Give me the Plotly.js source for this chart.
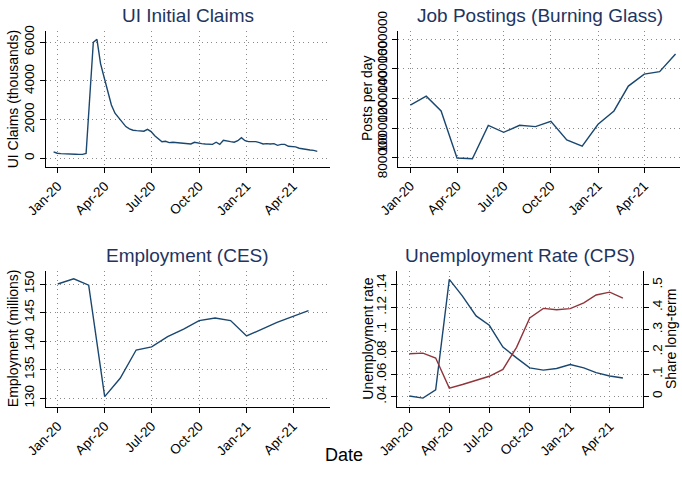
<!DOCTYPE html>
<html>
<head>
<meta charset="utf-8">
<script src="https://cdn.plot.ly/plotly-3.0.1.min.js"></script>
<style>html,body{margin:0;padding:0;background:#fff;}#chart{width:682px;height:490px;}</style>
</head>
<body>
<div id="chart"></div>
<script>
// ---------------- DATA ----------------
// Weekly UI initial claims (thousands)
const claimDates = [
 "2019-12-24","2019-12-31","2020-01-07","2020-01-14","2020-01-21","2020-01-28","2020-02-04","2020-02-11",
 "2020-02-18","2020-02-25","2020-03-03","2020-03-10","2020-03-17","2020-03-24","2020-03-31","2020-04-07",
 "2020-04-14","2020-04-21","2020-04-28","2020-05-05","2020-05-12","2020-05-19","2020-05-26","2020-06-02",
 "2020-06-09","2020-06-16","2020-06-23","2020-06-30","2020-07-07","2020-07-14","2020-07-21","2020-07-28",
 "2020-08-04","2020-08-11","2020-08-18","2020-08-25","2020-09-01","2020-09-08","2020-09-15","2020-09-22",
 "2020-09-29","2020-10-06","2020-10-13","2020-10-20","2020-10-27","2020-11-03","2020-11-10","2020-11-17",
 "2020-11-24","2020-12-01","2020-12-08","2020-12-15","2020-12-22","2020-12-29","2021-01-05","2021-01-12",
 "2021-01-19","2021-01-26","2021-02-02","2021-02-09","2021-02-16","2021-02-23","2021-03-02","2021-03-09",
 "2021-03-16","2021-03-23","2021-03-30","2021-04-06","2021-04-13","2021-04-20","2021-04-27","2021-05-04",
 "2021-05-11","2021-05-18"];
const claims = [
 330,260,240,225,225,210,210,205,205,250,2900,6000,6150,4900,4180,3450,
 2760,2330,2100,1850,1640,1520,1450,1430,1415,1400,1500,1380,1170,1030,860,880,
 810,830,810,790,780,740,740,830,780,760,740,740,720,830,720,930,
 910,860,830,910,1070,910,860,860,860,810,740,760,740,760,670,720,
 720,620,590,590,520,480,450,430,410,360];

// Monthly job postings (posts per day), Jan-20 .. Jun-21
const postDates = ["2020-01-01","2020-02-01","2020-03-01","2020-04-01","2020-05-01","2020-06-01",
 "2020-07-01","2020-08-01","2020-09-01","2020-10-01","2020-11-01","2020-12-01",
 "2021-01-01","2021-02-01","2021-03-01","2021-04-01","2021-05-01","2021-06-01"];
const postings = [1155000,1216000,1116000,798000,793000,1019000,972000,1019000,1010000,1046000,
 920000,879000,1026000,1116000,1284000,1365000,1381000,1501000];

// Monthly series Jan-20 .. May-21
const monthDates = ["2020-01-01","2020-02-01","2020-03-01","2020-04-01","2020-05-01","2020-06-01",
 "2020-07-01","2020-08-01","2020-09-01","2020-10-01","2020-11-01","2020-12-01",
 "2021-01-01","2021-02-01","2021-03-01","2021-04-01","2021-05-01"];
const employment = [150.0,150.9,149.8,130.3,133.5,138.45,139.0,140.8,142.1,143.6,144.05,143.6,
 140.9,142.1,143.3,144.35,145.35];
const unempRate = [0.0403,0.0384,0.0458,0.1450,0.1300,0.1122,0.1038,0.0843,0.0745,0.0655,0.0635,0.0650,
 0.0685,0.0656,0.0613,0.0582,0.0564];
const shareLT = [0.191,0.194,0.172,0.037,0.053,0.071,0.090,0.121,0.220,0.352,0.395,0.389,
 0.394,0.420,0.455,0.468,0.441];

// Tick labels
const xTickVals = ["2020-01-01","2020-04-01","2020-07-01","2020-10-01","2021-01-01","2021-04-01"];
const xTickText = ["Jan-20","Apr-20","Jul-20","Oct-20","Jan-21","Apr-21"];
const claimTicks = [0,2000,4000,6000];
const claimTickText = ["0","2000","4000","6000"];
const postTicks = [800000,1000000,1200000,1400000,1600000];
const postTickText = ["800000","1000000","1200000","1400000","1600000"];
const empTicks = [130,135,140,145,150];
const empTickText = ["130","135","140","145","150"];
const urTicks = [0.04,0.06,0.08,0.10,0.12,0.14];
const urTickText = [".04",".06",".08",".1",".12",".14"];
const ltTicks = [0,0.1,0.2,0.3,0.4,0.5];
const ltTickText = ["0",".1",".2",".3",".4",".5"];

// ---------------- STYLE / LAYOUT ----------------
const W = 682, H = 490;
const FONT = "'Liberation Sans', Arial, Helvetica, sans-serif";
const NAVY = "#1a476f", MAROON = "#90353b", TITLE = "#1e3461";
const px = v => v / W;
const py = v => 1 - v / H;
const dx = (a, b) => [px(a), px(b)];
const dy = (top, bottom) => [py(bottom), py(top)];

function xax(domain, anchor, range) {
  return {domain, anchor, range, type: "date", tickvals: xTickVals, ticktext: xTickText,
    tickangle: -45, ticks: "outside", ticklen: 5, tickcolor: "#000", tickwidth: 1,
    showline: true, linecolor: "#000", linewidth: 1.2, showgrid: true, gridcolor: "#8a8a8a",
    griddash: "1px,3.6px", gridwidth: 1, zeroline: false, tickfont: {size: 13.5, color: "#000"}, fixedrange: true};
}
function yax(domain, anchor, range, vals, text) {
  return {domain, anchor, range, tickvals: vals, ticktext: text, tickangle: -90,
    ticks: "outside", ticklen: 5, tickcolor: "#000", tickwidth: 1,
    showline: true, linecolor: "#000", linewidth: 1.2, showgrid: true, gridcolor: "#8a8a8a",
    griddash: "1px,3.6px", gridwidth: 1, zeroline: false, tickfont: {size: 13.5, color: "#000"}, fixedrange: true};
}

const lineStyle = c => ({color: c, width: 1.4});
const traces = [
  {x: claimDates, y: claims, xaxis: "x", yaxis: "y", type: "scatter", mode: "lines", line: lineStyle(NAVY)},
  {x: postDates, y: postings, xaxis: "x2", yaxis: "y2", type: "scatter", mode: "lines", line: lineStyle(NAVY)},
  {x: monthDates, y: employment, xaxis: "x3", yaxis: "y3", type: "scatter", mode: "lines", line: lineStyle(NAVY)},
  {x: monthDates, y: unempRate, xaxis: "x4", yaxis: "y4", type: "scatter", mode: "lines", line: lineStyle(NAVY)},
  {x: monthDates, y: shareLT, xaxis: "x4", yaxis: "y5", type: "scatter", mode: "lines", line: lineStyle(MAROON)}
];

const y5 = yax(dy(271.3, 407), "x4", [-0.048, 0.5615], ltTicks, ltTickText);
y5.overlaying = "y4"; y5.side = "right"; y5.showgrid = false; y5.ticklabelstandoff = -3;

const ann = (text, x, y, size, color, angle) => ({text, x: px(x), y: py(y), xref: "paper", yref: "paper",
  showarrow: false, xanchor: "center", yanchor: "middle", textangle: angle || 0,
  font: {family: FONT, size, color}});

const layout = {
  width: W, height: H, margin: {l: 0, r: 0, t: 0, b: 0},
  paper_bgcolor: "#fff", plot_bgcolor: "#fff", showlegend: false,
  font: {family: FONT, color: "#000"},
  xaxis: xax(dx(45.7, 330), "y", ["2019-12-08 17:00", "2021-06-11 16:00"]),
  yaxis: yax(dy(31, 166.7), "x", [-435, 6585], claimTicks, claimTickText),
  xaxis2: xax(dx(398.3, 680), "y2", ["2019-12-08 14:00", "2021-06-09 17:00"]),
  yaxis2: yax(dy(30.7, 166.5), "x2", [741000, 1658000], postTicks, postTickText),
  xaxis3: xax(dx(45.7, 330), "y3", ["2019-12-08 17:00", "2021-06-11 16:00"]),
  yaxis3: yax(dy(270.7, 406.7), "x3", [128.53, 152.33], empTicks, empTickText),
  xaxis4: xax(dx(397.3, 642.7), "y4", ["2019-12-04 17:00", "2021-06-15 00:00"]),
  yaxis4: yax(dy(271.3, 407), "x4", [0.0304, 0.1523], urTicks, urTickText),
  yaxis5: y5,
  annotations: [
    ann("UI Initial Claims", 188, 15, 19, TITLE),
    ann("Job Postings (Burning Glass)", 539.5, 15, 19, TITLE),
    ann("Employment (CES)", 188, 255, 19, TITLE),
    ann("Unemployment Rate (CPS)", 520, 255, 19, TITLE),
    ann("UI Claims (thousands)", 12.5, 98.8, 14, "#000", -90),
    ann("Posts per day", 366.5, 98.6, 14, "#000", -90),
    ann("Employment (millions)", 12.5, 338.7, 14, "#000", -90),
    ann("Unemployment rate", 367.7, 339, 14, "#000", -90),
    ann("Share long-term", 671, 339, 14, "#000", -90),
    ann("Date", 344, 455, 18, "#000")
  ]
};

Plotly.newPlot("chart", traces, layout, {staticPlot: true, displayModeBar: false});
</script>
</body>
</html>
